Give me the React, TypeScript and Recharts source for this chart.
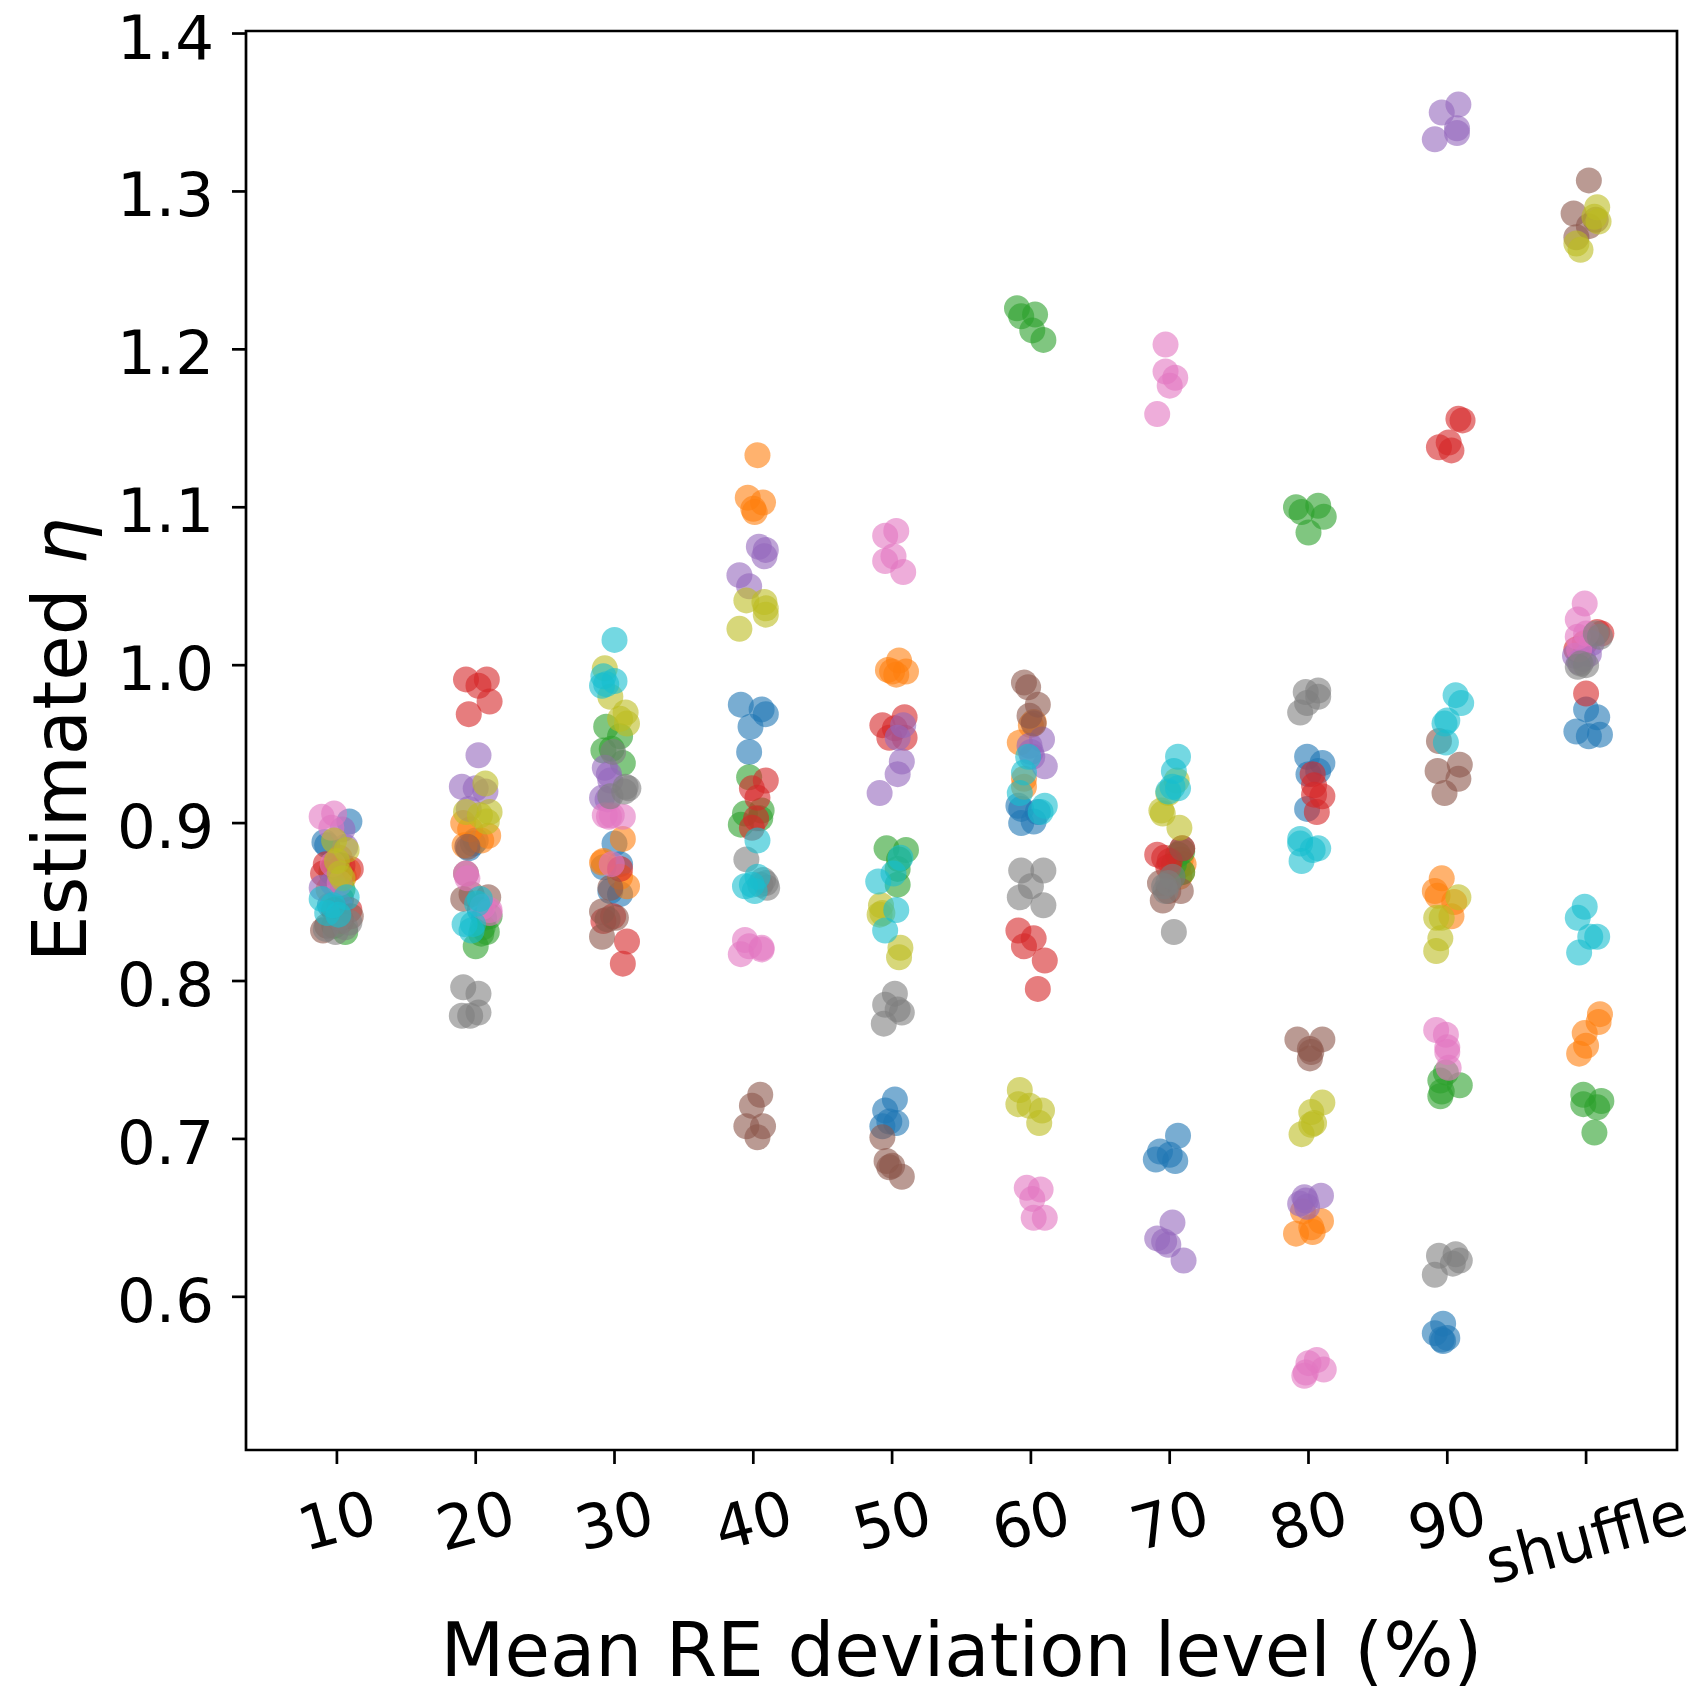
import React from 'react';
import {
  ScatterChart,
  Scatter,
  XAxis,
  YAxis,
  ReferenceArea,
} from 'recharts';

type Pt = [number, number]; // [jitter, eta]

const CATEGORIES = ['10', '20', '30', '40', '50', '60', '70', '80', '90', 'shuffle'];
const Y_TICKS = [0.6, 0.7, 0.8, 0.9, 1.0, 1.1, 1.2, 1.3, 1.4];

// one array per color, one sub-array per category
const blue: Pt[][] = [
  [[0.09, 0.901], [-0.09, 0.888], [-0.07, 0.886], [0.03, 0.852], [-0.05, 0.848]],
  [[-0.05, 0.884], [-0.02, 0.887], [0.0, 0.889], [0.03, 0.845], [0.06, 0.84]],
  [[0.0, 0.887], [0.04, 0.874], [-0.08, 0.872], [0.04, 0.855], [-0.03, 0.857]],
  [[-0.09, 0.975], [0.06, 0.972], [0.09, 0.969], [-0.02, 0.961], [-0.03, 0.945]],
  [[0.02, 0.725], [-0.05, 0.718], [-0.02, 0.711], [-0.07, 0.708], [0.03, 0.71]],
  [[-0.09, 0.911], [-0.07, 0.909], [-0.07, 0.9], [0.02, 0.901], [0.05, 0.907]],
  [[0.06, 0.702], [-0.07, 0.692], [0.0, 0.69], [-0.1, 0.687], [0.04, 0.686]],
  [[-0.01, 0.942], [0.1, 0.938], [0.0, 0.931], [-0.01, 0.909], [0.07, 0.933]],
  [[-0.03, 0.583], [-0.09, 0.577], [-0.04, 0.573], [0.0, 0.574], [-0.03, 0.572]],
  [[0.0, 0.972], [0.08, 0.967], [-0.07, 0.958], [0.1, 0.956], [0.02, 0.955]],
];
const orange: Pt[][] = [
  [[-0.02, 0.873], [0.05, 0.866], [0.02, 0.878], [-0.06, 0.858], [0.08, 0.87]],
  [[-0.09, 0.9], [0.09, 0.892], [0.04, 0.889], [-0.08, 0.886], [-0.04, 0.896]],
  [[0.06, 0.89], [-0.09, 0.875], [0.04, 0.866], [0.09, 0.86], [-0.08, 0.876]],
  [[0.03, 1.133], [-0.04, 1.106], [0.07, 1.103], [0.0, 1.099], [0.01, 1.097]],
  [[0.05, 1.003], [0.1, 0.996], [0.0, 0.996], [0.03, 0.994], [-0.03, 0.997]],
  [[0.02, 0.964], [-0.08, 0.951], [-0.05, 0.928], [-0.05, 0.923], [0.0, 0.962]],
  [[0.08, 0.877], [0.1, 0.874], [0.06, 0.872], [0.09, 0.869], [0.07, 0.866]],
  [[-0.04, 0.654], [0.09, 0.648], [0.02, 0.644], [0.03, 0.641], [-0.09, 0.64]],
  [[-0.04, 0.865], [-0.09, 0.857], [-0.07, 0.854], [0.05, 0.85], [0.03, 0.841]],
  [[0.1, 0.779], [0.09, 0.774], [-0.01, 0.767], [0.0, 0.759], [-0.05, 0.754]],
];
const green: Pt[][] = [
  [[-0.04, 0.869], [0.0, 0.874], [0.06, 0.831], [-0.02, 0.835], [0.04, 0.858]],
  [[0.08, 0.831], [0.04, 0.83], [0.0, 0.822], [0.1, 0.841], [0.05, 0.834]],
  [[-0.06, 0.961], [0.04, 0.955], [-0.08, 0.946], [-0.02, 0.947], [0.06, 0.938]],
  [[-0.03, 0.929], [-0.06, 0.906], [0.05, 0.903], [-0.09, 0.899], [0.06, 0.908]],
  [[-0.04, 0.884], [0.1, 0.883], [0.05, 0.877], [0.04, 0.871], [0.04, 0.861]],
  [[-0.1, 1.226], [-0.07, 1.221], [0.03, 1.222], [0.01, 1.212], [0.09, 1.206]],
  [[0.09, 0.882], [0.09, 0.869], [0.02, 0.866], [0.06, 0.88], [0.03, 0.874]],
  [[-0.09, 1.1], [0.07, 1.101], [-0.05, 1.097], [0.11, 1.094], [0.0, 1.084]],
  [[-0.01, 0.742], [-0.05, 0.737], [0.09, 0.734], [-0.04, 0.73], [-0.05, 0.727]],
  [[-0.02, 0.728], [0.11, 0.724], [-0.02, 0.722], [0.08, 0.72], [0.06, 0.704]],
];
const red: Pt[][] = [
  [[-0.08, 0.874], [-0.1, 0.868], [0.1, 0.871], [0.04, 0.873], [0.09, 0.845]],
  [[-0.07, 0.991], [0.08, 0.991], [0.02, 0.987], [0.1, 0.977], [-0.05, 0.969]],
  [[0.04, 0.871], [-0.08, 0.838], [0.09, 0.825], [0.06, 0.811], [-0.01, 0.841]],
  [[0.09, 0.927], [-0.01, 0.922], [0.03, 0.916], [0.02, 0.903], [-0.01, 0.897]],
  [[0.09, 0.967], [-0.07, 0.962], [0.02, 0.96], [-0.02, 0.954], [0.09, 0.954]],
  [[-0.09, 0.832], [0.02, 0.827], [-0.05, 0.822], [0.1, 0.813], [0.05, 0.795]],
  [[-0.09, 0.88], [-0.04, 0.878], [0.0, 0.876], [0.09, 0.884], [-0.01, 0.872]],
  [[0.03, 0.931], [0.04, 0.924], [0.1, 0.917], [0.04, 0.918], [0.06, 0.907]],
  [[0.08, 1.156], [0.11, 1.155], [0.01, 1.141], [-0.06, 1.138], [0.03, 1.136]],
  [[0.11, 1.02], [0.08, 1.021], [-0.07, 1.01], [0.0, 0.982], [-0.01, 1.014]],
];
const purple: Pt[][] = [
  [[0.04, 0.896], [-0.11, 0.859], [0.06, 0.885], [-0.03, 0.862], [0.02, 0.848]],
  [[0.02, 0.943], [-0.1, 0.923], [0.0, 0.922], [0.07, 0.92], [-0.05, 0.909]],
  [[-0.07, 0.935], [-0.04, 0.931], [-0.09, 0.916], [-0.03, 0.927], [-0.05, 0.915]],
  [[0.04, 1.075], [0.09, 1.073], [0.08, 1.069], [-0.1, 1.057], [-0.03, 1.05]],
  [[0.08, 0.962], [0.04, 0.954], [0.07, 0.939], [0.04, 0.931], [-0.09, 0.919]],
  [[0.08, 0.953], [-0.01, 0.949], [0.0, 0.945], [0.1, 0.936], [0.01, 0.942]],
  [[0.02, 0.647], [-0.09, 0.637], [-0.01, 0.633], [0.1, 0.623], [-0.04, 0.635]],
  [[0.09, 0.664], [-0.03, 0.663], [-0.02, 0.661], [-0.06, 0.659], [-0.01, 0.657]],
  [[0.08, 1.355], [-0.04, 1.35], [0.07, 1.34], [0.07, 1.337], [-0.09, 1.333]],
  [[-0.08, 1.006], [0.02, 1.007], [-0.02, 1.004], [0.04, 1.014], [-0.05, 1.002]],
];
const brown: Pt[][] = [
  [[-0.1, 0.832], [-0.07, 0.835], [0.1, 0.841], [0.03, 0.838], [-0.02, 0.845]],
  [[-0.07, 0.868], [-0.09, 0.852], [-0.03, 0.855], [0.09, 0.853], [-0.06, 0.885]],
  [[-0.03, 0.859], [-0.09, 0.844], [0.01, 0.84], [-0.09, 0.828], [-0.05, 0.839]],
  [[0.05, 0.728], [-0.01, 0.721], [-0.05, 0.708], [0.07, 0.708], [0.03, 0.701]],
  [[-0.07, 0.701], [-0.04, 0.686], [0.0, 0.683], [-0.02, 0.682], [0.07, 0.676]],
  [[-0.05, 0.989], [-0.02, 0.986], [0.05, 0.975], [-0.01, 0.968], [0.02, 0.963]],
  [[0.09, 0.884], [-0.07, 0.862], [0.08, 0.857], [-0.05, 0.851], [-0.01, 0.857]],
  [[-0.08, 0.763], [0.1, 0.763], [0.01, 0.757], [0.02, 0.755], [0.01, 0.751]],
  [[-0.06, 0.952], [0.09, 0.937], [-0.07, 0.933], [0.08, 0.928], [-0.02, 0.919]],
  [[0.02, 1.307], [-0.09, 1.286], [0.02, 1.278], [-0.07, 1.271], [0.07, 1.282]],
];
const pink: Pt[][] = [
  [[-0.11, 0.904], [-0.02, 0.906], [-0.04, 0.897], [-0.03, 0.874], [0.02, 0.862]],
  [[-0.07, 0.868], [-0.06, 0.865], [0.1, 0.845], [0.1, 0.843], [0.05, 0.847]],
  [[-0.07, 0.905], [-0.02, 0.905], [0.06, 0.904], [-0.04, 0.904], [-0.02, 0.874]],
  [[-0.06, 0.826], [-0.03, 0.822], [0.06, 0.821], [0.06, 0.82], [-0.09, 0.817]],
  [[0.03, 1.085], [-0.05, 1.082], [0.01, 1.069], [-0.05, 1.066], [0.08, 1.059]],
  [[-0.03, 0.669], [0.07, 0.668], [0.01, 0.662], [0.02, 0.65], [0.1, 0.65]],
  [[-0.03, 1.203], [-0.03, 1.186], [0.04, 1.182], [0.0, 1.177], [-0.09, 1.159]],
  [[0.06, 0.56], [0.0, 0.558], [0.11, 0.554], [-0.02, 0.552], [-0.03, 0.55]],
  [[-0.08, 0.769], [-0.01, 0.766], [0.0, 0.758], [0.0, 0.755], [0.01, 0.745]],
  [[-0.01, 1.039], [-0.06, 1.029], [-0.06, 1.018], [0.0, 1.02], [-0.05, 1.01]],
];
const gray: Pt[][] = [
  [[-0.08, 0.833], [0.06, 0.834], [0.09, 0.837], [-0.01, 0.831], [0.02, 0.84]],
  [[-0.09, 0.796], [0.02, 0.792], [0.02, 0.78], [-0.1, 0.778], [-0.04, 0.778]],
  [[-0.01, 0.945], [0.08, 0.923], [0.07, 0.92], [-0.03, 0.917], [0.1, 0.922]],
  [[-0.05, 0.877], [0.09, 0.862], [0.1, 0.859], [0.07, 0.864], [0.05, 0.861]],
  [[0.02, 0.792], [-0.05, 0.785], [0.04, 0.782], [0.07, 0.78], [-0.06, 0.773]],
  [[-0.07, 0.87], [0.09, 0.87], [0.0, 0.86], [-0.08, 0.853], [0.09, 0.848]],
  [[0.02, 0.866], [-0.04, 0.86], [-0.03, 0.857], [0.03, 0.831], [-0.01, 0.862]],
  [[-0.02, 0.983], [0.07, 0.984], [0.07, 0.98], [-0.01, 0.976], [-0.06, 0.97]],
  [[0.06, 0.627], [-0.06, 0.626], [0.09, 0.623], [0.04, 0.621], [-0.09, 0.614]],
  [[0.07, 1.02], [0.1, 1.018], [-0.04, 1.001], [0.0, 1.0], [-0.06, 0.999]],
];
const olive: Pt[][] = [
  [[-0.02, 0.889], [0.07, 0.883], [0.02, 0.868], [0.04, 0.865], [0.0, 0.876]],
  [[0.07, 0.925], [-0.07, 0.907], [0.1, 0.907], [0.03, 0.905], [0.08, 0.901]],
  [[-0.03, 0.98], [0.08, 0.97], [0.09, 0.963], [-0.07, 0.998], [0.04, 0.966]],
  [[-0.05, 1.041], [0.08, 1.04], [0.09, 1.036], [0.09, 1.032], [-0.1, 1.023]],
  [[-0.08, 0.848], [-0.09, 0.842], [0.06, 0.821], [0.05, 0.815], [-0.07, 0.843]],
  [[-0.08, 0.731], [-0.09, 0.722], [-0.01, 0.721], [0.08, 0.718], [0.06, 0.71]],
  [[0.05, 0.927], [-0.06, 0.908], [-0.05, 0.906], [0.07, 0.897], [-0.01, 0.919]],
  [[0.1, 0.723], [0.02, 0.717], [0.04, 0.71], [0.02, 0.709], [-0.05, 0.703]],
  [[0.08, 0.853], [-0.08, 0.84], [-0.04, 0.84], [-0.05, 0.827], [-0.08, 0.819]],
  [[0.08, 1.29], [0.06, 1.284], [0.09, 1.281], [-0.07, 1.267], [-0.04, 1.263]],
];
const cyan: Pt[][] = [
  [[-0.11, 0.852], [0.07, 0.853], [-0.07, 0.843], [0.01, 0.842], [-0.03, 0.848]],
  [[0.03, 0.852], [0.01, 0.849], [-0.08, 0.836], [-0.02, 0.836], [-0.03, 0.832]],
  [[0.0, 1.016], [-0.08, 0.993], [0.0, 0.99], [-0.09, 0.987], [-0.06, 0.988]],
  [[0.03, 0.889], [0.03, 0.866], [-0.06, 0.86], [0.01, 0.857], [-0.01, 0.861]],
  [[0.06, 0.878], [0.01, 0.868], [-0.1, 0.863], [0.03, 0.845], [-0.05, 0.832]],
  [[-0.02, 0.942], [-0.05, 0.932], [-0.08, 0.919], [0.1, 0.911], [0.07, 0.907]],
  [[0.06, 0.942], [0.03, 0.933], [0.06, 0.922], [-0.01, 0.92], [0.02, 0.923]],
  [[-0.06, 0.89], [-0.06, 0.887], [0.07, 0.884], [0.03, 0.883], [-0.05, 0.876]],
  [[0.06, 0.981], [0.1, 0.976], [0.0, 0.965], [-0.02, 0.963], [-0.01, 0.951]],
  [[-0.01, 0.847], [-0.06, 0.84], [0.03, 0.828], [0.08, 0.828], [-0.05, 0.818]],
];

const SERIES: { name: string; color: string; pts: Pt[][] }[] = [
  { name: 'C0', color: '#1f77b4', pts: blue },
  { name: 'C1', color: '#ff7f0e', pts: orange },
  { name: 'C2', color: '#2ca02c', pts: green },
  { name: 'C3', color: '#d62728', pts: red },
  { name: 'C4', color: '#9467bd', pts: purple },
  { name: 'C5', color: '#8c564b', pts: brown },
  { name: 'C6', color: '#e377c2', pts: pink },
  { name: 'C7', color: '#7f7f7f', pts: gray },
  { name: 'C8', color: '#bcbd22', pts: olive },
  { name: 'C9', color: '#17becf', pts: cyan },
];

const X_MIN = -0.655;
const X_MAX = 9.655;
const Y_MIN = 0.503;
const Y_MAX = 1.4016;

const FONT = '"DejaVu Sans", sans-serif';
const TICK_FS = 61;
const LABEL_FS = 74;
const LINE_W = 2.7;

// DejaVu Sans advance widths (em) for the tick label glyphs
const GLYPH_W: Record<string, number> = {
  '0': 0.636, '1': 0.636, '2': 0.636, '3': 0.636, '4': 0.636, '5': 0.636,
  '6': 0.636, '7': 0.636, '8': 0.636, '9': 0.636,
  s: 0.521, h: 0.634, u: 0.634, f: 0.352, l: 0.278, e: 0.615,
};

const toData = (pts: Pt[][]) =>
  pts.flatMap((group, ci) => group.map(([j, eta]) => ({ x: ci + j, y: eta })));

const XTick = (props: any) => {
  const { x, y, payload } = props;
  const label = CATEGORIES[payload.value] ?? '';
  const w = label.split('').reduce((s, c) => s + (GLYPH_W[c] ?? 0.6), 0) * TICK_FS;
  const h = 1.164 * TICK_FS;
  const a = (15 * Math.PI) / 180;
  const cy = y + (w * Math.sin(a) + h * Math.cos(a)) / 2;
  return (
    <text
      x={x}
      y={cy}
      textAnchor="middle"
      dominantBaseline="central"
      fontSize={TICK_FS}
      fontFamily={FONT}
      fill="#000"
      transform={`rotate(-15 ${x} ${cy})`}
    >
      {label}
    </text>
  );
};

const YTick = (props: any) => {
  const { x, y, payload } = props;
  return (
    <text x={x} y={y + 25} textAnchor="end" fontSize={TICK_FS} fontFamily={FONT} fill="#000">
      {Number(payload.value).toFixed(1)}
    </text>
  );
};

export default function App() {
  return (
    <div style={{ position: 'absolute', left: 0, top: 0, background: '#fff' }}>
      <ScatterChart
        width={1696}
        height={1694}
        margin={{ top: 31, right: 19, left: 0, bottom: 0 }}
      >
        <XAxis
          type="number"
          dataKey="x"
          domain={[X_MIN, X_MAX]}
          ticks={[0, 1, 2, 3, 4, 5, 6, 7, 8, 9]}
          allowDataOverflow
          height={244}
          tickSize={14}
          tickMargin={12}
          axisLine={false}
          tickLine={{ stroke: '#000', strokeWidth: LINE_W }}
          tick={<XTick />}
          interval={0}
          label={{
            content: () => (
              <text
                x={961.5}
                y={1676}
                textAnchor="middle"
                fontSize={LABEL_FS}
                fontFamily={FONT}
                fill="#000"
              >
                Mean RE deviation level (%)
              </text>
            ),
          }}
        />
        <YAxis
          type="number"
          dataKey="y"
          domain={[Y_MIN, Y_MAX]}
          ticks={Y_TICKS}
          allowDataOverflow
          width={246}
          tickSize={14}
          tickMargin={18}
          axisLine={false}
          tickLine={{ stroke: '#000', strokeWidth: LINE_W }}
          tick={<YTick />}
          interval={0}
          label={{
            content: () => (
              <text
                x={86}
                y={740}
                textAnchor="middle"
                fontSize={LABEL_FS}
                fontFamily={FONT}
                fill="#000"
                transform="rotate(-90 86 740)"
              >
                Estimated <tspan fontStyle="italic">η</tspan>
              </text>
            ),
          }}
        />
        <ReferenceArea
          x1={X_MIN}
          x2={X_MAX}
          y1={Y_MIN}
          y2={Y_MAX}
          fill="none"
          stroke="#000"
          strokeWidth={LINE_W}
          ifOverflow="visible"
        />
        {SERIES.map((s) => (
          <Scatter
            key={s.name}
            name={s.name}
            data={toData(s.pts)}
            isAnimationActive={false}
            shape={(p: any) => (
              <circle cx={p.cx} cy={p.cy} r={13} fill={s.color} fillOpacity={0.6} />
            )}
          />
        ))}
      </ScatterChart>
    </div>
  );
}
